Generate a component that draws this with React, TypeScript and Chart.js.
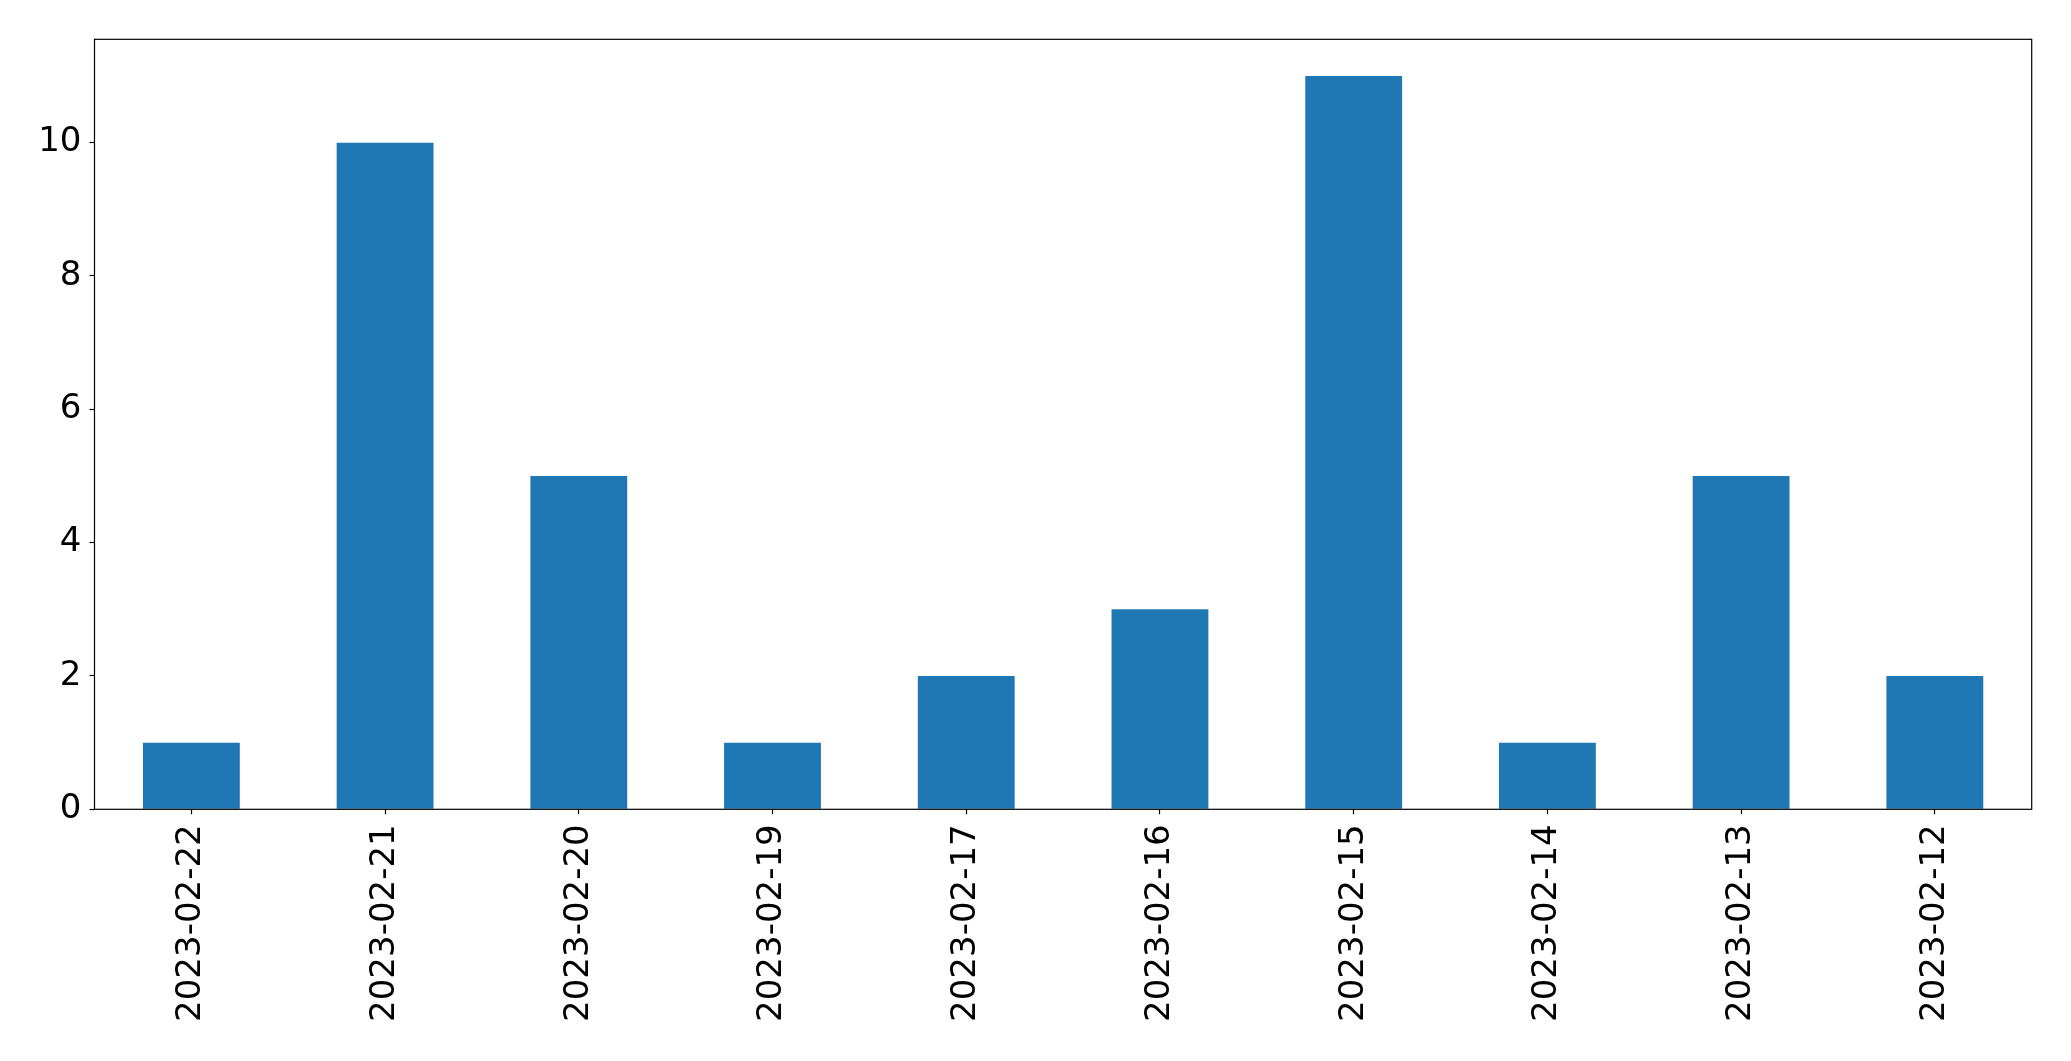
import React, { useEffect, useRef } from "react";
import { Chart, registerables } from "chart.js";

Chart.register(...registerables);

const categories = [
  "2023-02-22", "2023-02-21", "2023-02-20", "2023-02-19", "2023-02-17",
  "2023-02-16", "2023-02-15", "2023-02-14", "2023-02-13", "2023-02-12",
];
const counts = [1, 10, 5, 1, 2, 3, 11, 1, 5, 2];
const yTicks = [0, 2, 4, 6, 8, 10];
const yMax = 11.55;

const W = 2071;
const H = 1061;
const FONT = { family: "'DejaVu Sans', sans-serif", size: 34 };

const framePlugin = {
  id: "frame",
  afterDraw(chart: any) {
    const { ctx, chartArea } = chart;
    ctx.save();
    ctx.strokeStyle = "#000";
    ctx.lineWidth = 1.2;
    ctx.strokeRect(chartArea.left, chartArea.top, chartArea.right - chartArea.left, chartArea.bottom - chartArea.top);
    ctx.restore();
  },
};

export default function App() {
  const ref = useRef<HTMLCanvasElement>(null);
  useEffect(() => {
    if (!ref.current) return;
    const chart = new Chart(ref.current, {
      type: "bar",
      data: {
        labels: categories,
        datasets: [
          {
            data: counts,
            backgroundColor: "#1f77b4",
            categoryPercentage: 1,
            barPercentage: 0.5,
          },
        ],
      },
      options: {
        animation: false,
        responsive: false,
        devicePixelRatio: 1,
        layout: { padding: { left: 0, top: 39.3, right: 39.3, bottom: 11.7 } },
        plugins: { legend: { display: false }, tooltip: { enabled: false } },
        scales: {
          x: {
            clip: false,
            grid: { display: true, offset: false, drawOnChartArea: false, tickLength: 5, tickColor: "#000", tickWidth: 1.2 },
            border: { display: false },
            ticks: { color: "#000", font: FONT, maxRotation: 90, minRotation: 90, padding: 10, autoSkip: false },
            afterFit: (s: any) => { s.height = 240; },
          },
          y: {
            min: 0,
            max: yMax,
            clip: false,
            afterBuildTicks: (s: any) => { s.ticks = yTicks.map((v) => ({ value: v })); },
            grid: { display: true, drawOnChartArea: false, tickLength: 5, tickColor: "#000", tickWidth: 1.2 },
            border: { display: false },
            ticks: { color: "#000", font: FONT, padding: 8 },
            afterFit: (s: any) => { s.width = 94.5; },
          },
        },
      },
      plugins: [framePlugin],
    });
    return () => chart.destroy();
  }, []);
  return (
    <div style={{ position: "absolute", left: 0, top: 0, width: W, height: H, background: "#fff" }}>
      <canvas ref={ref} width={W} height={H} style={{ width: W, height: H }} />
    </div>
  );
}
